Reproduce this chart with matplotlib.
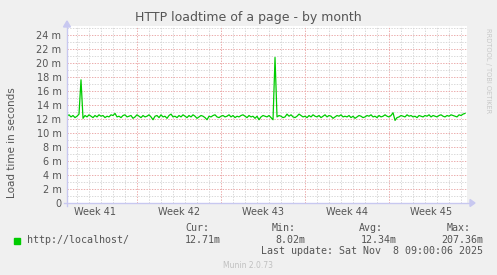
import matplotlib
matplotlib.use("Agg")
import matplotlib.pyplot as plt
import numpy as np

# ---- data (load time in milliseconds, one sample every 4 hours) ----
load_ms = [
    12.4, 12.6, 12.3, 12.5, 12.2, 12.4, 12.7, 17.6, 12.1, 12.5, 12.3, 12.6, 12.4, 12.2, 12.5, 12.3, 12.6, 12.4, 12.5, 12.2,
    12.4, 12.3, 12.6, 12.5, 12.8, 12.3, 12.4, 12.2, 12.5, 12.6, 12.3, 12.4, 12.5, 12.1, 12.3, 12.6, 12.4, 12.2, 12.5, 12.3,
    12.4, 12.6, 12.3, 11.9, 12.4, 12.5, 12.2, 12.6, 12.3, 12.4, 12.1, 12.5, 12.7, 12.3, 12.4, 12.2, 12.5, 12.3, 12.6, 12.4,
    12.2, 12.5, 12.3, 12.6, 12.4, 12.1, 12.3, 12.5, 12.4, 12.2, 11.9, 12.4, 12.3, 12.5, 12.6, 12.3, 12.2, 12.4, 12.5, 12.3,
    12.4, 12.6, 12.3, 12.5, 12.2, 12.4, 12.3, 12.5, 12.6, 12.4, 12.2, 12.5, 12.3, 12.4, 12.1, 12.4, 11.9, 12.3, 12.5, 12.4,
    12.3, 12.5, 12.2, 11.9, 20.8, 12.3, 12.5, 12.4, 12.2, 12.3, 12.7, 12.4, 12.6, 12.3, 12.2, 12.4, 12.7, 12.5, 12.3, 12.4,
    12.2, 12.5, 12.3, 12.6, 12.4, 12.3, 12.5, 12.2, 12.4, 12.6, 12.3, 12.5, 12.4, 12.1, 12.3, 12.5, 12.4, 12.6, 12.3, 12.4,
    12.3, 12.5, 12.2, 12.4, 12.1, 12.3, 12.5, 12.4, 12.2, 12.3, 12.5, 12.4, 12.6, 12.3, 12.4, 12.2, 12.5, 12.3, 12.4, 12.6,
    12.4, 12.3, 12.5, 12.9, 11.8, 12.2, 12.3, 12.5, 12.4, 12.3, 12.6, 12.4, 12.5, 12.3, 12.4, 12.2, 12.5, 12.4, 12.3, 12.5,
    12.4, 12.6, 12.3, 12.5, 12.4, 12.3, 12.5, 12.6, 12.4, 12.3, 12.5, 12.4, 12.6, 12.5, 12.4, 12.3, 12.6, 12.5, 12.7, 12.8,
]
sample_step_days = 1 / 6
week_labels = ["Week 41", "Week 42", "Week 43", "Week 44", "Week 45"]
week_starts = [5.83, 12.83, 19.83, 26.83]          # Monday 00:00 boundaries (days from left edge)
week_centers = [2.33, 9.33, 16.33, 23.33, 30.33]
y_ticks = list(range(0, 25, 2))
y_tick_labels = ["0"] + [f"{v} m" for v in y_ticks[1:]]

legend_name = "http://localhost/"
stat_cur, stat_min, stat_avg, stat_max = "12.71m", "8.02m", "12.34m", "207.36m"

# ---- figure ----
W, H = 497, 275
fig = plt.figure(figsize=(W / 100, H / 100), dpi=100, facecolor="#F0F0F0")
L, R, T, B = 67, 467, 26, 203
ax = fig.add_axes([L / W, (H - B) / H, (R - L) / W, (B - T) / H], facecolor="white")
xmax = 33.33
ymax = 25.29
ax.set_xlim(0, xmax)
ax.set_ylim(0, ymax)
for s in ax.spines.values():
    s.set_visible(False)

gray = "#D8D8D8"
red = "#EBAAAA"
dash = (0, (1.4, 1.4))
# minor grid
for v in range(1, 26):
    if v % 2 == 1:
        ax.axhline(v, color=gray, lw=0.7, ls=dash, zorder=1)
for v in y_ticks[1:]:
    ax.axhline(v, color=red, lw=0.7, ls=dash, zorder=1.5)
d = week_starts[0] - 5
while d < xmax:
    if all(abs(d - w) > 0.05 for w in week_starts):
        ax.axvline(d, color=gray, lw=0.7, ls=dash, zorder=1)
    d += 1
for w in week_starts:
    ax.axvline(w, color=red, lw=0.7, ls=dash, zorder=1.5)

x = np.arange(len(load_ms)) * sample_step_days
ax.plot(x, load_ms, color="#00CC00", lw=0.9, zorder=3)

txt = "#555555"
ax.set_yticks(y_ticks)
ax.set_yticklabels(y_tick_labels)
ax.set_xticks(week_centers)
ax.set_xticklabels(week_labels)
ax.tick_params(axis="both", length=0, labelsize=7, colors=txt, pad=4)
ax.tick_params(axis="x", pad=3)
ax.set_ylabel("Load time in seconds", fontsize=7.5, color=txt)
ax.yaxis.set_label_coords(-50 / 400, 0.34)

# axes lines with arrows
axc = "#C8C8F0"
fig.add_artist(plt.Line2D([64 / W, 470 / W], [(H - B) / H] * 2, color=axc, lw=1))
fig.add_artist(plt.Line2D([L / W] * 2, [(H - 206) / H, (H - 24) / H], color=axc, lw=1))
fig.add_artist(matplotlib.patches.Polygon([[470 / W, (H - 199.5) / H], [470 / W, (H - 206.5) / H], [475 / W, (H - 203) / H]],
                                          closed=True, color=axc, transform=fig.transFigure))
fig.add_artist(matplotlib.patches.Polygon([[63.5 / W, (H - 27) / H], [70.5 / W, (H - 27) / H], [67 / W, (H - 21) / H]],
                                          closed=True, color=axc, transform=fig.transFigure))

def ftext(px, py, s, **kw):
    fig.text(px / W, 1 - py / H, s, **kw)

ftext(248, 18, "HTTP loadtime of a page - by month", ha="center", va="center", fontsize=9, color=txt)
ftext(488, 28, "RRDTOOL / TOBI OETIKER", ha="center", va="top", rotation=270, fontsize=4.8, color="#C8C8C8")

mono = dict(family="DejaVu Sans Mono", fontsize=7.2, color=txt, va="center")
fig.add_artist(matplotlib.patches.Rectangle((14 / W, 1 - 244 / H), 6 / W, 6 / H, color="#00CC00",
                                            transform=fig.transFigure))
ftext(27, 240, legend_name, ha="left", **mono)
ftext(185, 228, "Cur:", ha="left", **mono)
ftext(221, 240, stat_cur, ha="right", **mono)
ftext(296, 228, "Min:", ha="right", **mono)
ftext(305, 240, stat_min, ha="right", **mono)
ftext(383, 228, "Avg:", ha="right", **mono)
ftext(397, 240, stat_avg, ha="right", **mono)
ftext(471, 228, "Max:", ha="right", **mono)
ftext(483, 240, stat_max, ha="right", **mono)
ftext(483, 251, "Last update: Sat Nov  8 09:00:06 2025", ha="right", **mono)
ftext(248, 266, "Munin 2.0.73", ha="center", va="center", fontsize=5.5, color="#C0C0C0")

fig.savefig("out.png", dpi=100, facecolor=fig.get_facecolor())
